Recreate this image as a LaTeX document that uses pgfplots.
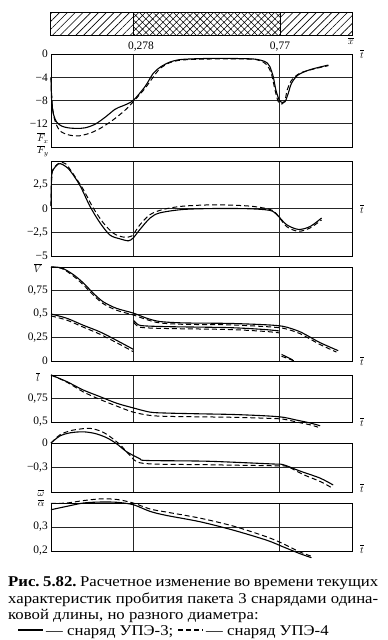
\documentclass[border=0pt]{standalone}
\usepackage{fontspec}
\setmainfont{Liberation Serif}
\newfontfamily\capfont{Liberation Serif}[FakeStretch=1.12]
\usepackage{pgfplots}
\pgfplotsset{compat=1.18}
\usetikzlibrary{patterns.meta}

\pgfplotsset{
  panel/.style={
    scale only axis, width=301bp, xmin=0, xmax=1.0145,
    anchor=north west, clip=false,
    axis line style={line width=0.8bp},
    xtick={0.278,0.77}, xticklabels={}, xmajorgrids, ymajorgrids,
    major tick length=0pt,
    grid style={line width=0.6bp, black!85},
    yticklabel style={font=\fontsize{11.5}{12}\selectfont, inner sep=1bp, xshift=-2bp},
  },
  sol/.style={black, line width=1.1bp, smooth, tension=0.5, no markers},
  das/.style={black, line width=1.0bp, dash pattern=on 5bp off 3bp, smooth, tension=0.5, no markers},
}

\begin{document}
\frenchspacing
\begin{tikzpicture}
\useasboundingbox (0,0) rectangle (388bp,-640bp);

\begin{scope}[x=1bp,y=1bp]
% hatched bar
\fill[pattern={Lines[angle=45,distance=5.5bp,line width=0.65bp]}] (50,-12) rectangle (133.5,-35);
\fill[pattern={Hatch[angle=45,distance=4.8bp,line width=0.55bp]}] (133.5,-12) rectangle (280,-35);
\fill[pattern={Lines[angle=45,distance=5.5bp,line width=0.65bp]}] (280,-12) rectangle (352,-35);
\draw[line width=1bp] (50,-12) rectangle (352,-35);
\draw[line width=0.8bp] (133.5,-12)--(133.5,-35) (280,-12)--(280,-35);
\node[font=\fontsize{11.5}{12}\selectfont] at (141,-47) {0,278};
\node[font=\fontsize{11.5}{12}\selectfont] at (280,-47) {0,77};
\node at (351,-41) {$\overline{x}$};

% axis labels
\node at (43,-138) {$\overline{F}_{\!x}$};
\node at (43,-151) {$\overline{F}_{\!y}$};
\node at (38,-268) {$\overline{V}$};
\node at (38,-377) {$\overline{l}$};
\node at (41,-493) {$\overline{\omega}$};
\node at (41,-503) {$\overline{\alpha}$};
\foreach \yy in {54,209,361,422,488,549} \node at (362,-\yy) {$\overline{t}$};

% caption
\begin{scope}[every node/.style={anchor=base west, inner sep=0, font=\capfont\fontsize{15}{16}\selectfont}]
\node at (8,-586) {\makebox[370bp][s]{\textbf{Рис. 5.82.} Расчетное изменение во времени текущих}};
\node at (8,-603) {\makebox[370bp][s]{характеристик пробития пакета 3 снарядами одина-}};
\node at (8,-619) {ковой длины, но разного диаметра:};
\draw[line width=1.4bp] (18,-630) -- (43,-630);
\node at (46,-635) {— снаряд УПЭ-3;};
\draw[line width=1.4bp, dash pattern=on 5bp off 3bp] (178,-630) -- (203,-630);
\node at (206,-635) {— снаряд УПЭ-4};
\end{scope}
\end{scope}

% panel 1: Fx
\begin{axis}[panel, at={(51bp,-54bp)}, height=93bp, ymin=-16, ymax=0,
  ytick={-12,-8,-4,0}, yticklabels={−12,−8,−4,0}]
\addplot[sol] coordinates {(0,-4.0)(0.002,-7.8)(0.008,-10.3)(0.019,-11.7)(0.036,-12.4)(0.058,-12.7)(0.087,-12.8)(0.115,-12.7)(0.148,-12.1)(0.182,-10.9)(0.216,-9.5)(0.238,-9.0)(0.261,-8.5)(0.281,-7.8)(0.317,-5.6)(0.345,-3.3)(0.37,-2.2)(0.40,-1.4)(0.43,-1.0)(0.47,-0.85)(0.55,-0.75)(0.65,-0.8)(0.69,-0.9)(0.716,-1.2)(0.73,-1.6)(0.738,-2.2)(0.749,-3.9)(0.758,-6.2)(0.769,-7.9)(0.778,-8.3)(0.789,-8.2)(0.80,-6.7)(0.811,-5.0)(0.833,-3.6)(0.873,-2.7)(0.935,-1.9)};
\addplot[das] coordinates {(0,-4.0)(0.0045,-8.9)(0.0135,-11.5)(0.03,-13.2)(0.058,-13.9)(0.092,-14.1)(0.126,-13.7)(0.159,-13.0)(0.205,-11.5)(0.249,-9.7)(0.281,-8.0)(0.317,-5.9)(0.351,-3.5)(0.37,-2.4)(0.40,-1.5)(0.43,-1.1)(0.47,-0.95)(0.55,-0.85)(0.65,-0.85)(0.69,-0.95)(0.716,-1.4)(0.732,-2.2)(0.744,-3.6)(0.755,-6.2)(0.766,-8.2)(0.778,-8.6)(0.789,-7.9)(0.796,-6.2)(0.811,-4.5)(0.839,-3.3)(0.884,-2.6)(0.935,-2.0)};
\end{axis}

% panel 2: Fy
\begin{axis}[panel, at={(51bp,-161bp)}, height=95bp, ymin=-5, ymax=5,
  ytick={-5,-2.5,0,2.5}, yticklabels={−5,{−2,5},0,{2,5}}]
\addplot[sol] coordinates {(0,0.25)(0.002,3.4)(0.008,4.1)(0.025,4.7)(0.041,4.6)(0.064,4.0)(0.098,2.4)(0.131,0.25)(0.165,-1.5)(0.199,-2.8)(0.233,-3.2)(0.261,-3.4)(0.277,-3.1)(0.30,-2.2)(0.334,-1.0)(0.367,-0.46)(0.446,-0.1)(0.558,0)(0.671,-0.03)(0.738,-0.2)(0.761,-0.64)(0.794,-1.7)(0.834,-2.2)(0.873,-1.9)(0.912,-1.0)};
\addplot[das] coordinates {(0,0.3)(0.003,3.5)(0.01,4.3)(0.03,4.8)(0.05,4.7)(0.08,3.4)(0.109,2.0)(0.142,0.07)(0.176,-1.5)(0.21,-2.6)(0.243,-3.0)(0.272,-2.9)(0.30,-1.7)(0.334,-0.64)(0.378,-0.1)(0.446,0.25)(0.558,0.39)(0.671,0.25)(0.738,-0.1)(0.761,-0.6)(0.794,-1.9)(0.834,-2.4)(0.873,-2.05)(0.912,-1.2)};
\end{axis}

% panel 3: V
\begin{axis}[panel, at={(51bp,-267bp)}, height=94bp, ymin=0, ymax=1,
  ytick={0,0.25,0.5,0.75}, yticklabels={0,{0,25},{0,5},{0,75}}]
\addplot[sol] coordinates {(0,1.0)(0.036,0.99)(0.075,0.92)(0.109,0.83)(0.143,0.72)(0.176,0.63)(0.221,0.56)(0.277,0.51)(0.323,0.455)(0.367,0.42)(0.45,0.405)(0.6,0.40)(0.727,0.385)(0.78,0.37)(0.81,0.345)(0.84,0.31)(0.87,0.26)(0.907,0.195)(0.968,0.11)};
\addplot[das] coordinates {(0,1.0)(0.036,0.985)(0.075,0.905)(0.109,0.81)(0.143,0.70)(0.176,0.61)(0.221,0.54)(0.277,0.49)(0.323,0.44)(0.367,0.405)(0.45,0.39)(0.6,0.385)(0.727,0.365)(0.78,0.35)(0.81,0.325)(0.84,0.29)(0.87,0.24)(0.907,0.175)(0.962,0.095)};
\addplot[sol] coordinates {(0,0.5)(0.053,0.455)(0.109,0.38)(0.165,0.31)(0.221,0.22)(0.277,0.125)};
\addplot[das] coordinates {(0,0.48)(0.053,0.435)(0.109,0.36)(0.165,0.285)(0.221,0.195)(0.277,0.10)};
\addplot[sol] coordinates {(0.279,0.43)(0.29,0.395)(0.31,0.375)(0.4,0.365)(0.6,0.355)(0.72,0.335)(0.768,0.32)};
\addplot[das] coordinates {(0.279,0.41)(0.29,0.375)(0.31,0.355)(0.4,0.345)(0.6,0.335)(0.72,0.315)(0.768,0.30)};
\addplot[sol] coordinates {(0.777,0.07)(0.80,0.035)(0.815,0.01)};
\addplot[das] coordinates {(0.777,0.05)(0.80,0.025)(0.82,0.0)};
\end{axis}

% panel 4: l
\begin{axis}[panel, at={(51bp,-375bp)}, height=47bp, ymin=0.5, ymax=1,
  ytick={0.5,0.75}, yticklabels={{0,5},{0,75}}]
\addplot[sol] coordinates {(0,1.0)(0.053,0.93)(0.109,0.84)(0.165,0.77)(0.221,0.70)(0.277,0.65)(0.334,0.605)(0.39,0.595)(0.502,0.587)(0.614,0.58)(0.727,0.565)(0.783,0.55)(0.828,0.52)(0.873,0.49)(0.907,0.46)};
\addplot[das] coordinates {(0,1.0)(0.053,0.925)(0.109,0.82)(0.165,0.74)(0.221,0.67)(0.277,0.605)(0.334,0.57)(0.39,0.56)(0.502,0.555)(0.614,0.55)(0.727,0.54)(0.783,0.53)(0.828,0.50)(0.873,0.47)(0.90,0.445)};
\end{axis}

% panel 5: omega
\begin{axis}[panel, at={(51bp,-443bp)}, height=49bp, ymin=-0.6, ymax=0,
  ytick={-0.3,0}, yticklabels={{−0,3},0}]
\addplot[sol] coordinates {(0,0.0)(0.03,0.086)(0.065,0.125)(0.109,0.137)(0.15,0.115)(0.188,0.064)(0.221,-0.009)(0.255,-0.107)(0.30,-0.193)(0.323,-0.214)(0.525,-0.223)(0.749,-0.257)(0.783,-0.266)(0.839,-0.343)(0.907,-0.43)(0.951,-0.514)};
\addplot[das] coordinates {(0,0.0)(0.03,0.10)(0.065,0.15)(0.098,0.171)(0.131,0.18)(0.16,0.155)(0.188,0.107)(0.233,-0.021)(0.266,-0.15)(0.311,-0.249)(0.525,-0.266)(0.749,-0.279)(0.794,-0.285)(0.85,-0.386)(0.907,-0.471)(0.951,-0.557)};
\end{axis}

% panel 6: alpha
\begin{axis}[panel, at={(51bp,-503bp)}, height=48bp, ymin=0.2, ymax=0.4,
  ytick={0.2,0.3}, yticklabels={{0,2},{0,3}}]
\addplot[sol] coordinates {(0,0.372)(0.053,0.386)(0.109,0.40)(0.165,0.404)(0.221,0.403)(0.277,0.393)(0.334,0.365)(0.39,0.348)(0.502,0.322)(0.614,0.287)(0.727,0.245)(0.783,0.217)(0.839,0.189)(0.878,0.172)};
\addplot[das] coordinates {(0,0.398)(0.053,0.40)(0.109,0.41)(0.165,0.417)(0.221,0.415)(0.277,0.40)(0.334,0.375)(0.39,0.362)(0.502,0.337)(0.614,0.304)(0.727,0.259)(0.783,0.23)(0.839,0.196)(0.878,0.178)};
\end{axis}
\end{tikzpicture}
\end{document}
